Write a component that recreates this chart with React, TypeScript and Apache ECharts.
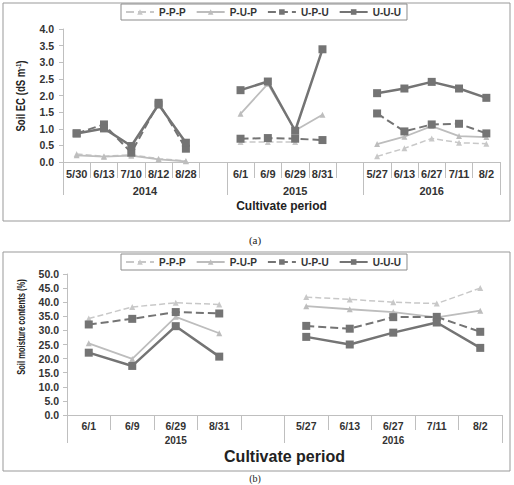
import React, { useEffect, useRef } from "react";
import * as echarts from "echarts";

const catsA = ["5/30", "6/13", "7/10", "8/12", "8/28", "", "6/1", "6/9", "6/29", "8/31", "", "5/27", "6/13", "6/27", "7/11", "8/2"];
const groupsA = ["2014", "2015", "2016"];
const groupBoundsA = [0, 6, 11, 16];
const groupCentersA = [3, 8.5, 13.5];

const ecPPP = [0.24, 0.17, 0.22, 0.1, 0.03, null, 0.6, 0.6, 0.6, null, null, 0.17, 0.41, 0.71, 0.58, 0.55];
const ecPUP = [0.2, 0.16, 0.19, 0.08, 0.02, null, 1.45, 2.35, 0.95, 1.42, null, 0.54, 0.76, 1.08, 0.78, 0.75];
const ecUPU = [0.86, 1.13, 0.28, 1.78, 0.4, null, 0.7, 0.72, 0.7, 0.66, null, 1.46, 0.92, 1.13, 1.15, 0.86];
const ecUUU = [0.86, 1.01, 0.48, 1.73, 0.58, null, 2.16, 2.42, 0.94, 3.39, null, 2.07, 2.21, 2.41, 2.21, 1.93];

const catsB = ["6/1", "6/9", "6/29", "8/31", "", "5/27", "6/13", "6/27", "7/11", "8/2"];
const groupsB = ["2015", "2016"];
const groupBoundsB = [0, 5, 10];
const groupCentersB = [2.5, 7.5];

const smPPP = [34.2, 38.3, 39.8, 39.2, null, 41.8, 41.0, 40.0, 39.5, 45.0];
const smPUP = [25.4, 19.9, 34.8, 29.0, null, 38.6, 37.5, 36.5, 34.6, 37.0];
const smUPU = [32.1, 34.1, 36.5, 36.0, null, 31.6, 30.6, 34.7, 34.8, 29.5];
const smUUU = [22.1, 17.4, 31.5, 20.7, null, 27.7, 25.0, 29.2, 32.8, 23.8];

const seriesNames = ["P-P-P", "P-U-P", "U-P-U", "U-U-U"];

const DARK = "#747474";
const LIGHT = "#bdbdbd";
const LIGHTER = "#c8c8c8";
const AXIS = "#bfbfbf";
const TXT = "#333333";
const FONT = "'Liberation Sans', Arial, sans-serif";

function seriesStyle(i: number) {
  if (i === 0) return { color: LIGHTER, type: "dashed", width: 1.5, symbol: "triangle", size: 6 };
  if (i === 1) return { color: LIGHT, type: "solid", width: 1.8, symbol: "triangle", size: 6 };
  if (i === 2) return { color: DARK, type: "dashed", width: 2, symbol: "rect", size: 8 };
  return { color: DARK, type: "solid", width: 2.5, symbol: "rect", size: 8 };
}

function makeSeries(data: (number | null)[][], gridIdx: number) {
  return data.map((d, i) => {
    const s = seriesStyle(i);
    return {
      name: seriesNames[i],
      type: "line",
      xAxisIndex: gridIdx === 0 ? 0 : 2,
      yAxisIndex: gridIdx,
      data: d,
      connectNulls: false,
      symbol: s.symbol,
      symbolSize: s.size,
      itemStyle: { color: s.color },
      lineStyle: { color: s.color, type: s.type, width: s.width },
      z: 2 + i,
    };
  });
}

export default function App() {
  const ref = useRef<HTMLDivElement>(null);
  useEffect(() => {
    if (!ref.current) return;
    const chart = echarts.init(ref.current, undefined, { renderer: "svg" });
    const legendBase = {
      itemWidth: 28,
      itemHeight: 7,
      itemGap: 10,
      borderColor: "#8c8c8c",
      borderWidth: 1,
      padding: [3, 6, 3, 4],
      textStyle: { fontFamily: FONT, fontWeight: "bold", fontSize: 10, color: TXT },
      data: seriesNames,
    };
    const option: any = {
      animation: false,
      backgroundColor: "#ffffff",
      legend: [
        { ...legendBase, left: 121, top: 4 },
        { ...legendBase, left: 121, top: 254 },
      ],
      grid: [
        { left: 63, top: 29, width: 437, height: 133 },
        { left: 67, top: 274, width: 435, height: 141 },
      ],
      xAxis: [
        {
          type: "category",
          gridIndex: 0,
          data: catsA,
          boundaryGap: true,
          axisLine: { lineStyle: { color: AXIS } },
          axisTick: { show: true, interval: 0, length: 16, lineStyle: { color: AXIS } },
          axisLabel: { interval: 0, margin: 6, fontFamily: FONT, fontWeight: "bold", fontSize: 11, color: TXT },
        },
        {
          type: "value",
          gridIndex: 0,
          position: "bottom",
          min: 0,
          max: 16,
          axisLine: { show: false },
          splitLine: { show: false },
          axisTick: { show: true, customValues: groupBoundsA, length: 33, lineStyle: { color: AXIS } },
          axisLabel: {
            customValues: groupCentersA,
            formatter: (v: number) => groupsA[groupCentersA.indexOf(v)] ?? "",
            margin: 23,
            fontFamily: FONT,
            fontWeight: "bold",
            fontSize: 11,
            color: TXT,
          },
          name: "Cultivate period",
          nameLocation: "middle",
          nameGap: 38,
          nameTextStyle: { fontFamily: FONT, fontWeight: "bold", fontSize: 12, color: "#222" },
        },
        {
          type: "category",
          gridIndex: 1,
          data: catsB,
          boundaryGap: true,
          axisLine: { lineStyle: { color: AXIS } },
          axisTick: { show: true, interval: 0, length: 15, lineStyle: { color: AXIS } },
          axisLabel: { interval: 0, margin: 5, fontFamily: FONT, fontWeight: "bold", fontSize: 10.5, color: TXT },
        },
        {
          type: "value",
          gridIndex: 1,
          position: "bottom",
          min: 0,
          max: 10,
          axisLine: { show: false },
          splitLine: { show: false },
          axisTick: { show: true, customValues: groupBoundsB, length: 28, lineStyle: { color: AXIS } },
          axisLabel: {
            customValues: groupCentersB,
            formatter: (v: number) => groupsB[groupCentersB.indexOf(v)] ?? "",
            margin: 20,
            fontFamily: FONT,
            fontWeight: "bold",
            fontSize: 10,
            color: TXT,
          },
          name: "Cultivate period",
          nameLocation: "middle",
          nameGap: 33,
          nameTextStyle: { fontFamily: FONT, fontWeight: "bold", fontSize: 16, color: "#222" },
        },
      ],
      yAxis: [
        {
          type: "value",
          gridIndex: 0,
          min: 0,
          max: 4,
          interval: 0.5,
          splitLine: { show: false },
          axisLine: { show: true, lineStyle: { color: AXIS } },
          axisTick: { show: true, length: 4, lineStyle: { color: AXIS } },
          axisLabel: {
            margin: 9,
            formatter: (v: number) => v.toFixed(1),
            fontFamily: FONT,
            fontWeight: "bold",
            fontSize: 10.5,
            color: TXT,
          },
        },
        {
          type: "value",
          gridIndex: 1,
          min: 0,
          max: 50,
          interval: 5,
          splitLine: { show: false },
          axisLine: { show: true, lineStyle: { color: AXIS } },
          axisTick: { show: true, length: 4, lineStyle: { color: AXIS } },
          axisLabel: {
            margin: 8,
            formatter: (v: number) => v.toFixed(1),
            fontFamily: FONT,
            fontWeight: "bold",
            fontSize: 10.5,
            color: TXT,
          },
        },
      ],
      graphic: [
        { type: "rect", shape: { x: 3, y: 3, width: 507, height: 218 }, style: { fill: "none", stroke: "#999", lineWidth: 1 }, z: -1 },
        { type: "rect", shape: { x: 3, y: 252, width: 507, height: 219 }, style: { fill: "none", stroke: "#999", lineWidth: 1 }, z: -1 },
        {
          type: "text",
          x: 21,
          y: 96,
          rotation: Math.PI / 2,
          scaleX: 0.8,
          style: {
            text: "Soil EC (dS m{sup|-1})",
            fontFamily: FONT,
            fontSize: 12,
            fontWeight: "bold",
            fill: "#222",
            align: "center",
            verticalAlign: "middle",
            rich: {
              sup: { fontSize: 7, fontWeight: "bold", fontFamily: FONT, fill: "#222", verticalAlign: "top", padding: [0, 0, 6, 0] },
            },
          },
        },
        {
          type: "text",
          x: 21,
          y: 327,
          rotation: Math.PI / 2,
          scaleX: 0.66,
          style: {
            text: "Soil moisture contents (%)",
            fontFamily: FONT,
            fontSize: 11.5,
            fontWeight: "bold",
            fill: "#222",
            align: "center",
            verticalAlign: "middle",
          },
        },
        { type: "text", x: 255, y: 240, style: { text: "(a)", fontFamily: "'Liberation Serif', serif", fontSize: 11, fill: "#222", align: "center", verticalAlign: "middle" } },
        { type: "text", x: 255, y: 473, style: { text: "(b)", fontFamily: "'Liberation Serif', serif", fontSize: 10, fill: "#222", align: "center", verticalAlign: "top" } },
      ],
      series: [
        ...makeSeries([ecPPP, ecPUP, ecUPU, ecUUU], 0),
        ...makeSeries([smPPP, smPUP, smUPU, smUUU], 1),
      ],
    };
    chart.setOption(option);
    return () => chart.dispose();
  }, []);
  return (
    <div
      ref={ref}
      style={{ position: "absolute", left: 0, top: 0, width: 514, height: 485 }}
    />
  );
}
